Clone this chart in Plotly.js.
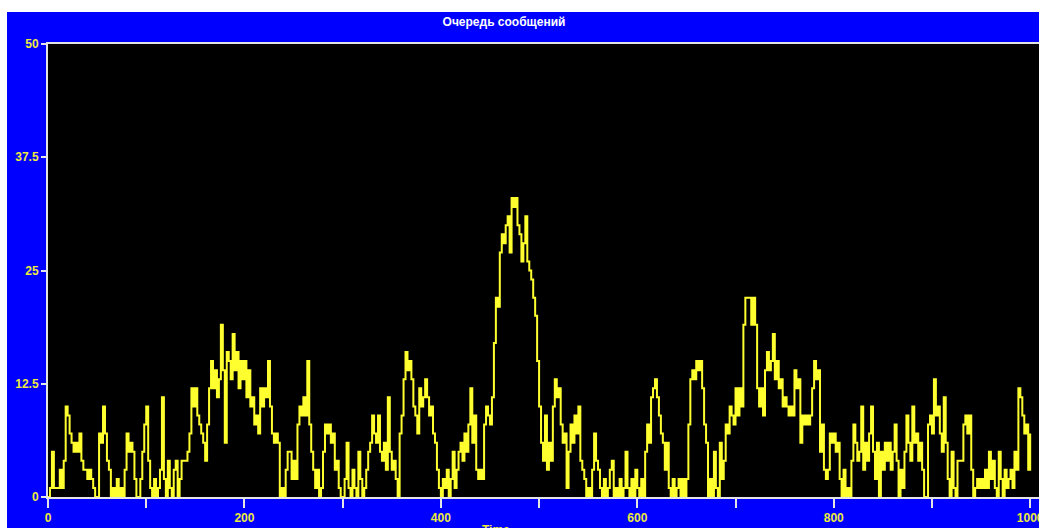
<!DOCTYPE html>
<html>
<head>
<meta charset="utf-8">
<script src="https://cdn.plot.ly/plotly-3.0.1.min.js"></script>
<style>
  html, body { margin: 0; padding: 0; background: #ffffff; overflow: hidden; width: 1039px; height: 528px; }
  #chart { position: absolute; left: 7px; top: 12px; width: 1100px; height: 516px; }
</style>
</head>
<body>
<div id="chart"></div>
<script>
// Message queue length, sampled every SAMPLE_STEP time units (t = 0 .. 1000)
const SAMPLE_STEP = 2;
const queueLen = [
  0, 1, 5, 1, 1, 1, 3, 1, 4, 10,
  9, 7, 6, 5, 6, 5, 7, 4, 3, 3,
  2, 3, 2, 1, 0, 0, 7, 6, 10, 7,
  4, 3, 0, 1, 0, 2, 0, 1, 0, 3,
  7, 5, 6, 5, 2, 0, 0, 2, 5, 8,
  10, 4, 1, 0, 2, 0, 1, 3, 11, 2,
  0, 4, 1, 0, 3, 4, 0, 2, 4, 4,
  4, 5, 7, 12, 10, 12, 9, 8, 7, 6,
  4, 8, 12, 15, 12, 14, 11, 13, 19, 14,
  6, 16, 15, 13, 18, 14, 16, 12, 15, 13,
  15, 11, 14, 10, 11, 8, 9, 7, 12, 10,
  12, 11, 15, 10, 7, 6, 7, 6, 0, 1,
  0, 3, 5, 5, 2, 4, 2, 8, 10, 9,
  11, 9, 15, 8, 5, 3, 1, 3, 0, 1,
  5, 8, 7, 8, 6, 7, 3, 4, 1, 0,
  0, 2, 6, 1, 0, 3, 1, 0, 5, 2,
  0, 1, 3, 5, 6, 9, 7, 6, 9, 5,
  4, 6, 3, 11, 5, 3, 4, 2, 0, 7,
  9, 13, 16, 14, 15, 13, 10, 9, 7, 12,
  10, 11, 13, 11, 9, 10, 7, 6, 3, 1,
  0, 2, 1, 3, 0, 2, 5, 1, 3, 5,
  6, 4, 7, 5, 8, 12, 6, 9, 3, 2,
  3, 2, 8, 10, 9, 8, 11, 17, 22, 21,
  27, 29, 28, 30, 31, 27, 33, 32, 33, 30,
  29, 26, 28, 31, 26, 25, 24, 22, 20, 15,
  10, 6, 4, 9, 3, 6, 4, 10, 13, 11,
  12, 8, 6, 7, 1, 5, 8, 6, 9, 7,
  10, 4, 3, 2, 0, 1, 0, 3, 7, 4,
  3, 1, 0, 2, 0, 1, 3, 4, 0, 1,
  0, 2, 0, 1, 5, 1, 0, 2, 0, 3,
  1, 0, 2, 0, 5, 8, 6, 11, 12, 13,
  11, 9, 7, 6, 3, 6, 1, 0, 2, 0,
  1, 2, 0, 2, 0, 2, 8, 13, 14, 13,
  15, 14, 15, 12, 8, 6, 0, 2, 0, 5,
  1, 0, 6, 2, 4, 8, 7, 10, 9, 8,
  12, 9, 12, 10, 19, 22, 22, 22, 19, 22,
  19, 12, 10, 12, 9, 14, 16, 14, 15, 18,
  13, 15, 12, 13, 10, 11, 10, 9, 10, 9,
  14, 12, 13, 6, 9, 8, 9, 8, 9, 12,
  15, 13, 14, 5, 8, 3, 2, 3, 7, 6,
  7, 5, 6, 2, 0, 3, 0, 1, 0, 4,
  8, 6, 4, 5, 10, 3, 6, 4, 7, 10,
  5, 2, 6, 0, 5, 3, 6, 4, 6, 3,
  5, 8, 4, 0, 3, 1, 5, 9, 6, 4,
  10, 6, 7, 4, 6, 3, 0, 0, 8, 9,
  7, 13, 9, 10, 7, 5, 11, 6, 2, 0,
  5, 1, 0, 4, 4, 4, 8, 9, 7, 9,
  3, 0, 1, 2, 1, 2, 1, 3, 1, 5,
  2, 4, 1, 0, 5, 2, 0, 3, 1, 2,
  3, 1, 5, 3, 12, 11, 9, 7, 8, 3,
  7
];
const timeAxis = queueLen.map((_, i) => i * SAMPLE_STEP);

const yTickVals = [0, 12.5, 25, 37.5, 50];
const yTickText = ['0', '12.5', '25', '37.5', '50'];
const xTickVals = [0, 200, 400, 600, 800, 1000];
const xTickText = ['0', '200', '400', '600', '800', '1000'];

const labelFont = { family: 'Liberation Sans, Arial, sans-serif', size: 12, color: '#ecec3c', weight: 'bold' };
const axisColor = '#e4e4e4';

const trace = {
  x: timeAxis,
  y: queueLen,
  type: 'scatter',
  mode: 'lines',
  line: { shape: 'hv', color: '#ffff30', width: 2 },
  hoverinfo: 'skip'
};

const layout = {
  width: 1100,
  height: 516,
  margin: { l: 41, r: 67, t: 32, b: 31, pad: 0 },
  paper_bgcolor: '#0000ff',
  plot_bgcolor: '#000000',
  showlegend: false,
  title: {
    text: 'Очередь сообщений',
    font: { family: 'Liberation Sans, Arial, sans-serif', size: 12, color: '#ffffff', weight: 'bold' },
    xref: 'container', x: 0.4518, xanchor: 'center',
    yref: 'container', y: 0.981, yanchor: 'middle'
  },
  xaxis: {
    range: [0, 1010],
    showgrid: false,
    zeroline: false,
    showline: true,
    mirror: true,
    linecolor: axisColor,
    linewidth: 2,
    ticks: 'outside',
    ticklen: 9,
    tickwidth: 2,
    tickcolor: axisColor,
    tickvals: xTickVals,
    ticktext: xTickText,
    tickfont: labelFont,
    minor: { dtick: 100, tick0: 0, ticks: 'outside', ticklen: 9, tickwidth: 2, tickcolor: axisColor, showgrid: false }
  },
  yaxis: {
    range: [0, 50],
    showgrid: false,
    zeroline: false,
    showline: true,
    mirror: true,
    linecolor: axisColor,
    linewidth: 2,
    ticks: 'outside',
    ticklen: 5,
    tickwidth: 2,
    tickcolor: axisColor,
    tickvals: yTickVals,
    ticktext: yTickText,
    tickfont: labelFont
  },
  annotations: [{
    text: 'Time',
    xref: 'paper', yref: 'paper',
    x: 0.4518 - 0.0, xanchor: 'center',
    y: -0.053, yanchor: 'top',
    showarrow: false,
    font: { family: 'Liberation Sans, Arial, sans-serif', size: 12, color: '#ecec3c', weight: 'bold' }
  }]
};

Plotly.newPlot('chart', [trace], layout, { staticPlot: true, displayModeBar: false });
</script>
</body>
</html>
